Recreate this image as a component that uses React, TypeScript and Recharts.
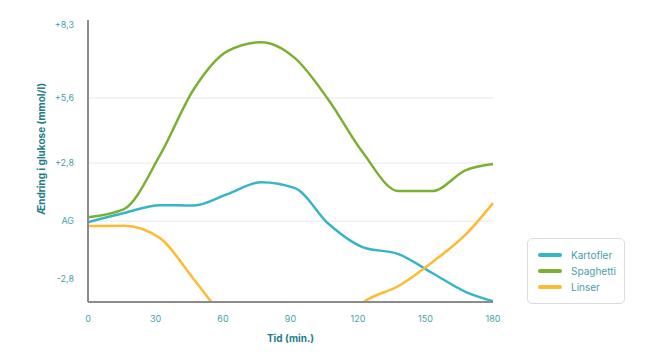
import React from 'react';
import {
  LineChart,
  Line,
  XAxis,
  YAxis,
  ReferenceLine,
} from 'recharts';

// minutes after meal
const minutes = [0, 16, 32, 47, 62, 77, 92, 107, 122, 138, 153, 168, 180];

// change in blood glucose (plot units, see yTicks)
const kartofler = [-0.05, 0.39, 0.77, 0.75, 1.3, 1.88, 1.59, -0.14, -1.25, -1.59, -2.5, -3.42, -3.86];
const spaghetti = [0.19, 0.58, 3.18, 6.36, 8.2, 8.63, 7.86, 5.83, 3.33, 1.45, 1.45, 2.46, 2.75];
const linser = [-0.24, -0.22, -0.82, -2.8, -4.8, -5.8, -6.2, -5.8, -3.95, -3.13, -1.98, -0.63, 0.87];

const xTicks = [0, 30, 60, 90, 120, 150, 180];
const yTicks = [-2.8, 0, 2.8, 5.94, 9.47];
const yTickLabels = ['-2,8', 'AG', '+2,8', '+5,6', '+8,3'];
const gridValues = [0, 2.8, 5.94];

const series = [
  { key: 'kartofler', name: 'Kartofler', color: '#35b6c8' },
  { key: 'spaghetti', name: 'Spaghetti', color: '#7cb032' },
  { key: 'linser', name: 'Linser', color: '#fdbb33' },
];

const data = minutes.map((m, i) => ({
  min: m,
  kartofler: kartofler[i],
  spaghetti: spaghetti[i],
  linser: linser[i],
}));

const tickColor = '#4a9ea9';
const titleColor = '#1f7c87';
const font = 'Inter, "Noto Sans", sans-serif';

function YTitle({ viewBox }: any) {
  const cx = viewBox.x + 13;
  const cy = viewBox.y + viewBox.height / 2 - 12;
  return (
    <text
      x={cx}
      y={cy}
      transform={`rotate(-90, ${cx}, ${cy})`}
      textAnchor="middle"
      dominantBaseline="central"
      fontSize={10}
      fontWeight={700}
      fill={titleColor}
      fontFamily={font}
    >
      Ændring i glukose (mmol/l)
    </text>
  );
}

function LegendBox() {
  return (
    <div
      style={{
        position: 'absolute',
        left: 527,
        top: 238,
        width: 86,
        border: '1px solid #dcdcdc',
        borderRadius: 5,
        padding: '8px 0 8px 10px',
        background: 'white',
        fontFamily: font,
      }}
    >
      {series.map((s) => (
        <div key={s.key} style={{ display: 'flex', alignItems: 'center', height: 16 }}>
          <span
            style={{
              display: 'inline-block',
              width: 24,
              height: 4,
              borderRadius: 2,
              background: s.color,
              marginRight: 9,
            }}
          />
          <span style={{ fontSize: 10, color: tickColor }}>{s.name}</span>
        </div>
      ))}
    </div>
  );
}

export default function App() {
  return (
    <div style={{ position: 'absolute', left: 0, top: 0, width: 654, height: 362, background: 'white' }}>
      <LineChart
        width={654}
        height={362}
        data={data}
        margin={{ top: 20, right: 161, left: 28, bottom: 10 }}
      >
        {gridValues.map((v) => (
          <ReferenceLine key={v} y={v} stroke="#e8e8e8" strokeWidth={1} />
        ))}
        <XAxis
          dataKey="min"
          type="number"
          domain={[0, 180]}
          ticks={xTicks}
          tickLine={false}
          axisLine={{ stroke: '#8c8c8c', strokeWidth: 2 }}
          tick={{ fontSize: 9, fill: tickColor, fontFamily: font }}
          tickMargin={8}
          height={50}
          label={{
            value: 'Tid (min.)',
            position: 'insideBottom',
            offset: 10,
            style: { fontSize: 10, fontWeight: 700, fill: titleColor, fontFamily: font },
          }}
        />
        <YAxis
          type="number"
          domain={[-3.9, 9.7]}
          allowDataOverflow
          ticks={yTicks}
          tickFormatter={(v: number) => yTickLabels[yTicks.indexOf(v)] ?? ''}
          tickLine={false}
          axisLine={{ stroke: '#8c8c8c', strokeWidth: 2 }}
          tick={{ fontSize: 9, fill: tickColor, fontFamily: font }}
          tickMargin={8}
          width={60}
          label={{ content: (props: any) => <YTitle {...props} /> }}
        />
        {series.map((s) => (
          <Line
            key={s.key}
            type="monotone"
            dataKey={s.key}
            name={s.name}
            stroke={s.color}
            strokeWidth={2.5}
            dot={false}
            activeDot={false}
            isAnimationActive={false}
          />
        ))}
      </LineChart>
      <LegendBox />
    </div>
  );
}
